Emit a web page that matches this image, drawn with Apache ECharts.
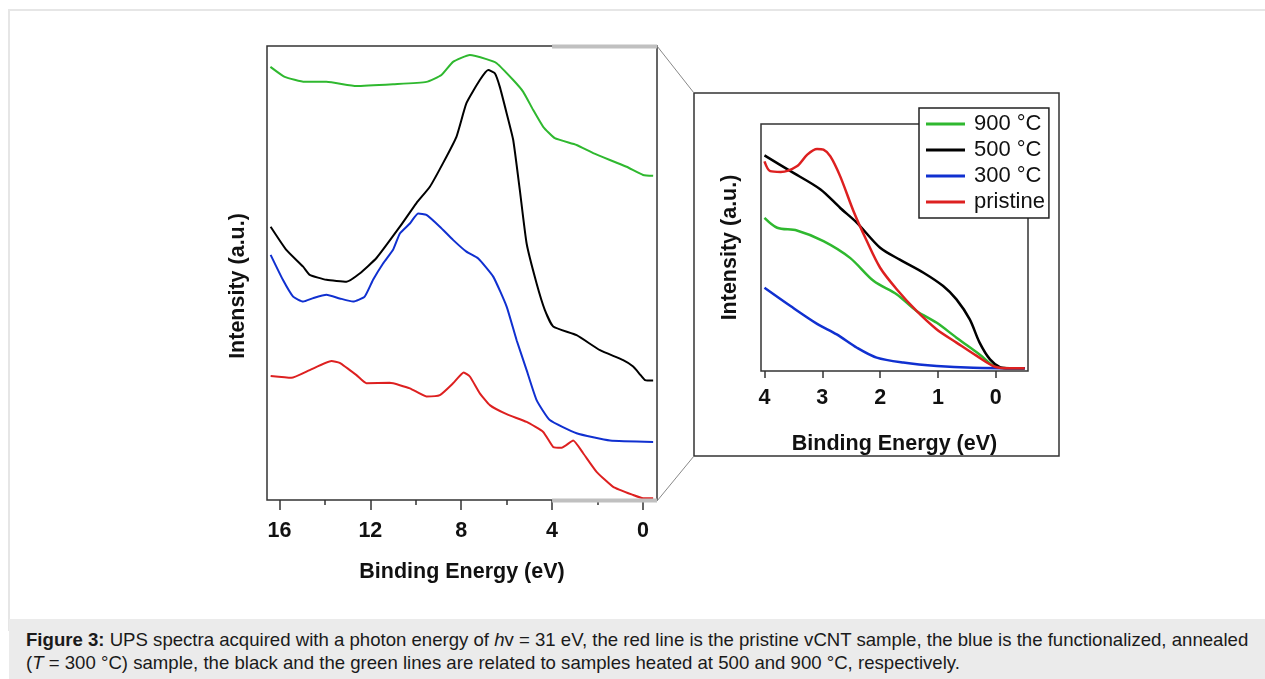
<!DOCTYPE html>
<html>
<head>
<meta charset="utf-8">
<script src="https://cdn.jsdelivr.net/npm/echarts@6.0.0/dist/echarts.min.js"></script>
<style>
  body {
    margin: 0;
    width: 1265px;
    height: 679px;
    overflow: hidden;
    background: #fff;
    font-family: 'Liberation Sans', Arial, sans-serif;
  }
  .frame {
    position: absolute;
    left: 8px;
    top: 9px;
    width: 1270px;
    height: 620px;
    border-top: 2px solid #e6e6e6;
    border-left: 2px solid #e6e6e6;
  }
  #chart {
    position: absolute;
    left: 0;
    top: 0;
    width: 1265px;
    height: 619px;
  }
  .caption {
    position: absolute;
    left: 9px;
    top: 619px;
    width: 1256px;
    height: 60px;
    background: #ebebeb;
    color: #1a1a1a;
    font-size: 18.6px;
    line-height: 23px;
    white-space: nowrap;
    padding: 9px 0 0 17px;
    box-sizing: border-box;
  }
</style>
</head>
<body>
<div class="frame"></div>
<div id="chart"></div>
<div class="caption">
  <b>Figure 3:</b> UPS spectra acquired with a photon energy of <i>h</i>v = 31 eV, the red line is the pristine vCNT sample, the blue is the functionalized, annealed<br>
  (<i>T</i> = 300 °C) sample, the black and the green lines are related to samples heated at 500 and 900 °C, respectively.
</div>

<script>
// full range spectra (binding energy in eV, intensity in a.u.)
const energy900 = [16.4, 15.77, 14.89, 13.93, 12.61, 11.0, 9.53, 8.87, 8.36, 7.62, 6.89, 6.44, 5.71, 5.27, 4.83, 4.39, 3.88, 2.92, 2.19, 0.72, -0.01, -0.45];
const intensity900 = [95.4, 93.2, 92.1, 92.1, 91.2, 91.6, 92.1, 93.6, 96.5, 98.0, 97.1, 96.2, 92.5, 89.9, 85.9, 82.2, 79.7, 78.2, 76.4, 73.4, 71.6, 71.4];

const energy500 = [16.39, 15.7, 14.96, 14.67, 13.93, 13.05, 12.47, 11.73, 10.7, 9.97, 9.38, 8.8, 8.21, 7.77, 7.18, 6.81, 6.52, 6.3, 6.0, 5.71, 5.42, 5.12, 4.68, 4.32, 3.95, 2.92, 1.89, 0.87, 0.43, 0.1, -0.1, -0.45];
const intensity500 = [60.2, 55.1, 51.4, 49.6, 48.5, 48.1, 49.9, 53.3, 60.2, 65.4, 69.0, 74.2, 80.0, 87.4, 92.5, 94.7, 94.0, 91.0, 85.2, 79.3, 68.3, 56.5, 47.7, 41.9, 38.2, 36.3, 33.0, 30.8, 29.4, 27.5, 26.4, 26.3];

const energy300 = [16.39, 15.85, 15.4, 14.96, 14.5, 13.93, 13.35, 12.76, 12.25, 11.88, 11.44, 11.0, 10.7, 10.26, 9.9, 9.53, 8.94, 8.36, 7.77, 7.25, 6.59, 6.0, 5.56, 5.12, 4.68, 4.1, 2.92, 1.45, -0.45];
const intensity300 = [54.0, 48.5, 44.8, 43.7, 44.5, 45.2, 44.4, 43.7, 44.8, 48.5, 52.1, 55.1, 58.7, 60.9, 63.1, 62.8, 60.2, 57.3, 54.7, 53.2, 49.2, 42.6, 35.2, 28.6, 22.0, 17.6, 14.7, 13.1, 12.8];

const energyPristine = [16.39, 15.48, 14.67, 13.71, 13.35, 12.61, 12.17, 11.15, 10.26, 9.53, 8.94, 8.36, 7.89, 7.62, 7.18, 6.74, 6.0, 5.12, 4.39, 3.95, 3.58, 3.07, 2.63, 2.04, 1.31, 0.43, -0.01, -0.45];
const intensityPristine = [27.3, 26.9, 28.6, 30.6, 30.2, 27.5, 25.7, 25.8, 24.6, 22.8, 23.1, 25.7, 28.1, 27.2, 23.5, 20.9, 18.9, 17.2, 15.0, 11.7, 11.5, 13.1, 10.3, 6.2, 2.9, 1.1, 0.4, 0.4];

// valence band edge (inset)
const edgeEnergy900 = [4.0, 3.78, 3.44, 2.98, 2.52, 2.11, 1.71, 1.37, 1.02, 0.68, 0.28, 0.0, -0.24, -0.5];
const edgeIntensity900 = [62.0, 58.0, 56.9, 52.6, 45.8, 36.4, 31.0, 24.3, 19.5, 13.5, 6.7, 1.6, 1.1, 1.1];

const edgeEnergy500 = [4.0, 3.55, 3.03, 2.69, 2.40, 2.0, 1.66, 1.25, 0.91, 0.68, 0.45, 0.28, 0.10, -0.07, -0.24, -0.5];
const edgeIntensity500 = [87.3, 80.9, 73.5, 66.0, 60.0, 49.9, 45.1, 39.8, 34.4, 29.0, 20.9, 11.5, 4.7, 1.6, 1.1, 1.1];

const edgeEnergy300 = [4.0, 3.55, 3.09, 2.75, 2.40, 2.06, 1.60, 1.02, 0.39, -0.5];
const edgeIntensity300 = [33.7, 26.3, 19.1, 14.8, 9.4, 5.4, 3.4, 2.0, 1.3, 1.1];

const edgeEnergyPristine = [4.0, 3.90, 3.72, 3.44, 3.26, 3.09, 2.98, 2.86, 2.69, 2.46, 2.23, 2.0, 1.71, 1.37, 1.02, 0.68, 0.33, 0.0, -0.24, -0.5];
const edgeIntensityPristine = [84.9, 80.9, 80.6, 82.9, 87.6, 89.9, 89.6, 86.9, 78.8, 64.7, 52.6, 41.8, 33.0, 24.3, 16.8, 11.5, 6.1, 1.6, 1.1, 1.1];

const seriesNames = ['900 °C', '500 °C', '300 °C', 'pristine'];
const seriesColors = ['#2fb82f', '#000000', '#1030d0', '#dd2020'];

const mainMajorTicks = [0, 4, 8, 12, 16];
const mainMinorTicks = [2, 6, 10, 14];
const insetTicks = [0, 1, 2, 3, 4];

const zip = (xs, ys) => xs.map((x, i) => [x, ys[i]]);

const fontFamily = "'Liberation Sans', Arial, sans-serif";
const boldText = { fontFamily: fontFamily, fontSize: 21.5, fontWeight: 'bold', color: '#111' };

let chartDom = document.getElementById('chart');
let myChart = echarts.init(chartDom);
let option;

const mainData = [
  zip(energy900, intensity900),
  zip(energy500, intensity500),
  zip(energy300, intensity300),
  zip(energyPristine, intensityPristine),
];
const edgeData = [
  zip(edgeEnergy900, edgeIntensity900),
  zip(edgeEnergy500, edgeIntensity500),
  zip(edgeEnergy300, edgeIntensity300),
  zip(edgeEnergyPristine, edgeIntensityPristine),
];

option = {
  animation: false,
  textStyle: { fontFamily: fontFamily },
  grid: [
    { left: 267, top: 46, width: 390, height: 454, show: true, borderColor: '#333', borderWidth: 1.5 },
    { left: 761, top: 124, width: 267, height: 247, show: true, borderColor: '#333', borderWidth: 1.5 },
  ],
  legend: {
    data: seriesNames,
    orient: 'vertical',
    left: 919,
    top: 108,
    icon: 'rect',
    itemWidth: 39,
    itemHeight: 3,
    itemGap: 4,
    padding: [5, 4, 5, 7],
    backgroundColor: '#fff',
    borderColor: '#222',
    borderWidth: 1.5,
    borderRadius: 0,
    textStyle: { fontFamily: fontFamily, fontSize: 22, lineHeight: 22, color: '#111', padding: [0, 0, 0, 4] },
  },
  xAxis: [
    {
      gridIndex: 0,
      type: 'value',
      min: -0.62,
      max: 16.55,
      inverse: true,
      axisLine: { show: false },
      axisTick: { customValues: mainMajorTicks, length: 10, lineStyle: { color: '#333', width: 1.5 } },
      axisLabel: { customValues: mainMajorTicks, margin: 20, fontSize: 21.5, fontWeight: 'bold', color: '#111' },
      splitLine: { show: false },
      name: 'Binding Energy (eV)',
      nameLocation: 'middle',
      nameGap: 61,
      nameTextStyle: boldText,
    },
    {
      gridIndex: 0,
      type: 'value',
      position: 'bottom',
      min: -0.62,
      max: 16.55,
      inverse: true,
      axisLine: { show: false },
      axisTick: { customValues: mainMinorTicks, length: 5, lineStyle: { color: '#333', width: 1.5 } },
      axisLabel: { show: false },
      splitLine: { show: false },
    },
    {
      gridIndex: 1,
      type: 'value',
      min: -0.557,
      max: 4.06,
      inverse: true,
      axisLine: { show: false },
      axisTick: { customValues: insetTicks, length: 7, lineStyle: { color: '#333', width: 1.5 } },
      axisLabel: { customValues: insetTicks, margin: 16, fontSize: 21.5, fontWeight: 'bold', color: '#111' },
      splitLine: { show: false },
      name: 'Binding Energy (eV)',
      nameLocation: 'middle',
      nameGap: 62,
      nameTextStyle: boldText,
    },
  ],
  yAxis: [
    {
      gridIndex: 0,
      type: 'value',
      min: 0,
      max: 100,
      axisLine: { show: false },
      axisTick: { show: false },
      axisLabel: { show: false },
      splitLine: { show: false },
      name: 'Intensity (a.u.)',
      nameLocation: 'middle',
      nameGap: 18,
      nameTextStyle: { ...boldText, padding: [0, 26, 0, 0] },
    },
    {
      gridIndex: 1,
      type: 'value',
      min: 0,
      max: 100,
      axisLine: { show: false },
      axisTick: { show: false },
      axisLabel: { show: false },
      splitLine: { show: false },
      name: 'Intensity (a.u.)',
      nameLocation: 'middle',
      nameGap: 20,
      nameTextStyle: boldText,
    },
  ],
  series: [
    ...mainData.map((data, i) => ({
      name: seriesNames[i],
      type: 'line',
      xAxisIndex: 0,
      yAxisIndex: 0,
      data: data,
      showSymbol: false,
      smooth: 0.15,
      lineStyle: { color: seriesColors[i], width: 2 },
      itemStyle: { color: seriesColors[i] },
    })),
    ...edgeData.map((data, i) => ({
      name: seriesNames[i],
      type: 'line',
      xAxisIndex: 2,
      yAxisIndex: 1,
      data: data,
      showSymbol: false,
      smooth: 0.3,
      lineStyle: { color: seriesColors[i], width: 2.5 },
      itemStyle: { color: seriesColors[i] },
    })),
  ],
};

option && myChart.setOption(option);

// zoom markers: grey band over 0-4 eV, inset frame and connecting lines
let x4 = myChart.convertToPixel({ xAxisIndex: 0 }, 4);
let mainRight = 657;
let mainTop = 46;
let mainBottom = 500;

myChart.setOption({
  graphic: [
    { type: 'rect', shape: { x: x4, y: mainTop - 1.5, width: mainRight - x4, height: 4 }, style: { fill: '#c0c0c0' }, z: 10 },
    { type: 'rect', shape: { x: x4, y: mainBottom - 1.5, width: mainRight - x4, height: 4 }, style: { fill: '#c0c0c0' }, z: 10 },
    { type: 'rect', shape: { x: 694, y: 93, width: 365, height: 363 }, style: { fill: null, stroke: '#333', lineWidth: 1.5 } },
    { type: 'line', shape: { x1: mainRight, y1: mainTop, x2: 694, y2: 93 }, style: { stroke: '#888', lineWidth: 1 } },
    { type: 'line', shape: { x1: mainRight, y1: mainBottom + 1, x2: 694, y2: 456 }, style: { stroke: '#888', lineWidth: 1 } },
  ],
});
</script>
</body>
</html>
